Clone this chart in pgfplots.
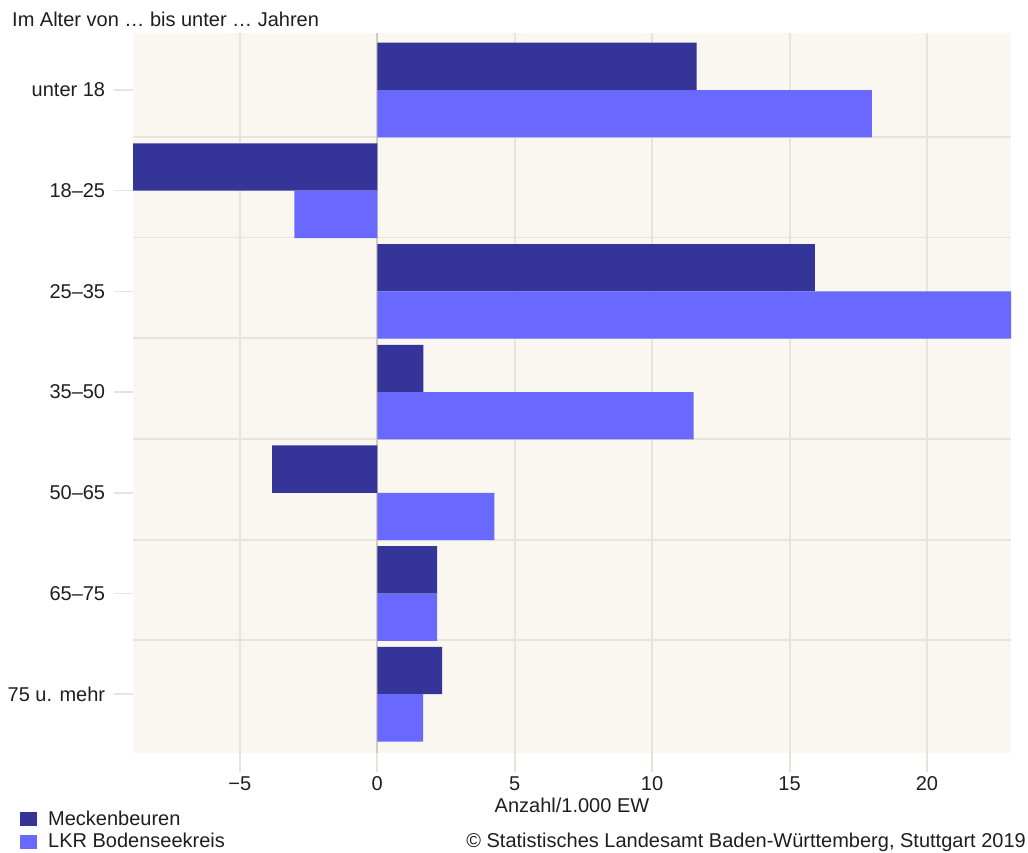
\documentclass[border=0pt]{standalone}
\usepackage{fontspec}
\setmainfont{Liberation Sans}
\usepackage{pgfplots}
\pgfplotsset{compat=1.18}
\definecolor{meck}{HTML}{343499}
\definecolor{lkr}{HTML}{6969FF}
\definecolor{bgc}{HTML}{F9F7EF}
\definecolor{gridc}{HTML}{E8E4DC}
\definecolor{zeroc}{HTML}{D0CCC4}
\definecolor{ytickc}{HTML}{E4E4E4}
\definecolor{txt}{HTML}{1E1E1E}

\begin{document}
\fontsize{20}{23}\selectfont
\begin{tikzpicture}[x=1pt,y=1pt]
\useasboundingbox (0,0) rectangle (1028,852);

\begin{axis}[
  at={(133pt,99pt)}, anchor=south west, scale only axis,
  width=878pt, height=720pt,
  xmin=-8.89, xmax=23.06,
  ymin=-0.566, ymax=6.584, y dir=reverse,
  axis background/.style={fill=bgc},
  axis line style={draw=none},
  xbar, bar width=0.47,
  xtick={-5,0,5,10,15,20},
  xticklabels={−5,0,5,10,15,20},
  ytick={0,...,6},
  yticklabels={unter 18,18–25,25–35,35–50,50–65,65–75,75 u. mehr},
  minor ytick={0.465,1.465,2.465,3.465,4.465,5.465},
  xtick pos=lower, ytick pos=left,
  tick align=outside, major tick length=19pt, minor tick length=0pt,
  xtick style={draw=gridc, line width=2pt},
  ytick style={draw=ytickc, line width=1.5pt},
  xmajorgrids=true, yminorgrids=true,
  major grid style={draw=gridc, line width=2pt},
  minor grid style={draw=gridc, line width=1.8pt},
  extra x ticks={0},
  extra x tick labels={},
  extra x tick style={grid=major, major grid style={draw=zeroc, line width=2pt}, tick style={draw=zeroc, line width=2pt}},
  ticklabel style={font=\fontsize{20}{23}\selectfont, text=txt},
  xticklabel style={anchor=base, yshift=-18pt},
  yticklabel style={anchor=east, xshift=-2pt},
  xlabel={Anzahl/1.000 EW},
  xlabel style={at={(axis description cs:0.5,-0.0833)}, anchor=base, font=\fontsize{20}{23}\selectfont, text=txt},
]
% Meckenbeuren
\addplot[fill=meck, draw=none, bar shift=-0.235] coordinates {
  (11.62,0) (-8.9,1) (15.92,2) (1.68,3) (-3.83,4) (2.18,5) (2.36,6)
};
% LKR Bodenseekreis
\addplot[fill=lkr, draw=none, bar shift=0.235] coordinates {
  (18.0,0) (-3.02,1) (23.1,2) (11.51,3) (4.26,4) (2.18,5) (1.67,6)
};
\end{axis}

\node[anchor=base west, text=txt, inner sep=0pt] at (12,825) {Im Alter von … bis unter … Jahren};
\fill[meck] (20,26) rectangle (37,40);
\fill[lkr] (20,3) rectangle (37,17);
\node[anchor=base west, text=txt, inner sep=0pt] at (48,27) {Meckenbeuren};
\node[anchor=base west, text=txt, inner sep=0pt] at (48,4.5) {LKR Bodenseekreis};
\node[anchor=base east, text=txt, inner sep=0pt] at (1026,4.5) {© Statistisches Landesamt Baden-Württemberg, Stuttgart 2019};
\end{tikzpicture}
\end{document}
